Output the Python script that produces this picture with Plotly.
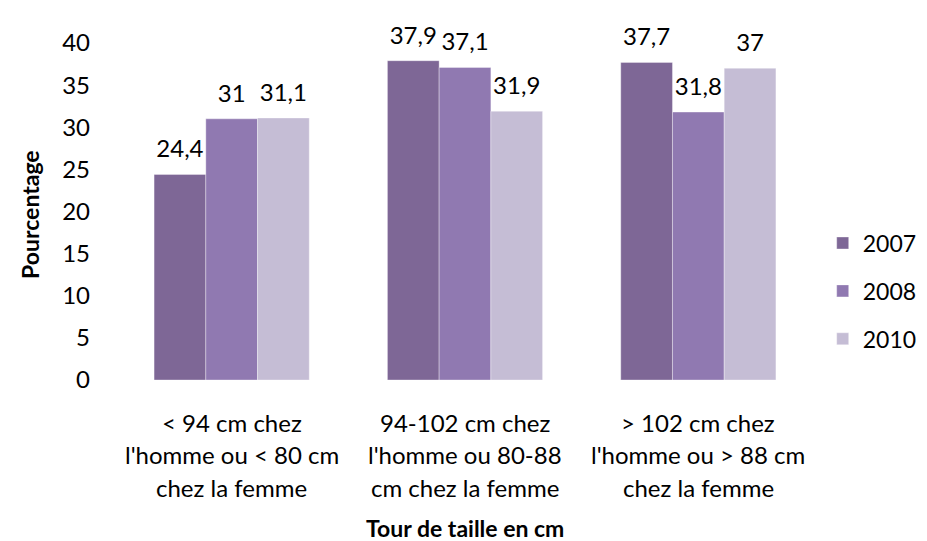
import plotly.graph_objects as go

categories = ["< 94 cm chez<br>l'homme ou < 80 cm<br>chez la femme",
              "94-102 cm chez<br>l'homme ou 80-88<br>cm chez la femme",
              "> 102 cm chez<br>l'homme ou > 88 cm<br>chez la femme"]
cat_ids = ["c1", "c2", "c3"]
series_names = ["2007", "2008", "2010"]
v2007 = [24.4, 37.9, 37.7]
v2008 = [31, 37.1, 31.8]
v2010 = [31.1, 31.9, 37]
colors = ["#7E6796", "#9079B1", "#C5BDD5"]

FONT = "Lato"
FS = 24

fig = go.Figure()
for name, vals, col in zip(series_names, [v2007, v2008, v2010], colors):
    fig.add_trace(go.Bar(
        x=cat_ids, y=vals, name=name, legendgroup=name, offsetgroup=name,
        marker=dict(color=col, line=dict(color="rgba(255,255,255,0.35)", width=1)),
    ))
for name, vals in zip(series_names, [v2007, v2008, v2010]):
    fig.add_trace(go.Scatter(
        x=cat_ids, y=vals, mode="markers+text", offsetgroup=name, showlegend=False,
        marker=dict(size=16, color="rgba(0,0,0,0)"),
        text=[f"{v:g}".replace(".", ",") for v in vals],
        textposition="top center", cliponaxis=False, hoverinfo="skip",
        textfont=dict(size=FS, color="#000000", family=FONT),
    ))

for cid, lab in zip(cat_ids, categories):
    for i, line in enumerate(lab.split("<br>")):
        fig.add_annotation(x=cid, xref="x", y=-0.125 - i * 0.0964, yref="paper",
                           text=line, showarrow=False, yanchor="middle",
                           font=dict(size=FS, color="#000000", family=FONT))

fig.add_annotation(x=0.5, xref="paper", y=-0.44, yref="paper",
                   text="<b>Tour de taille en cm</b>", showarrow=False, yanchor="middle",
                   font=dict(size=FS - 1, color="#000000", family=FONT))
fig.add_annotation(x=-0.1214, xref="paper", y=0.49, yref="paper", textangle=-90,
                   text="<b>Pourcentage</b>", showarrow=False, xanchor="center", yanchor="middle",
                   font=dict(size=FS - 1, color="#000000", family=FONT))

fig.update_layout(
    width=927, height=541,
    margin=dict(l=107, r=120, t=35, b=169, autoexpand=False),
    paper_bgcolor="white", plot_bgcolor="white",
    barmode="group", bargap=0.335, bargroupgap=0,
    scattermode="group", scattergap=0.335,
    font=dict(family=FONT, color="#000000"),
    showlegend=True,
    legend=dict(x=1.011, y=0.264, xanchor="left", yanchor="middle",
                font=dict(size=FS - 1, family=FONT), traceorder="grouped",
                tracegroupgap=15, itemwidth=30),
    xaxis=dict(showticklabels=False, showline=False, showgrid=False, ticks=""),
    yaxis=dict(range=[0, 40], dtick=5, showgrid=False, showline=False, zeroline=False,
               tickfont=dict(size=FS, family=FONT), ticklabelstandoff=24),
)

fig.write_html("out.html")
